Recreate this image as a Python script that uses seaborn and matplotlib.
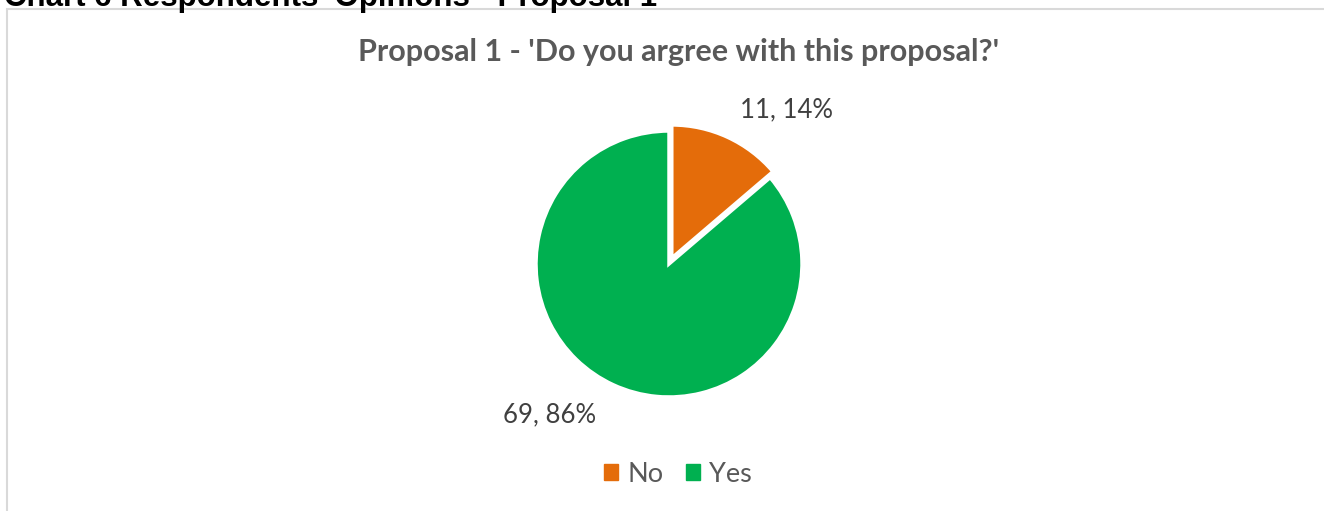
import matplotlib
matplotlib.use("Agg")
import matplotlib.pyplot as plt
import seaborn as sns
from matplotlib.patches import Rectangle, Patch

categories = ["No", "Yes"]
counts = [11, 69]
colors = ["#E46C0A", "#00B050"]
title = "Proposal 1 - 'Do you argree with this proposal?'"
outer_title = "Chart 6 Respondents' Opinions - Proposal 1"

sns.set_theme(style="white")
plt.rcParams['font.family'] = ['Lato', 'DejaVu Sans']

W, H = 1324, 511
fig = plt.figure(figsize=(W / 100, H / 100), dpi=100)
fig.patch.set_facecolor("white")

def fx(px):
    return px / W

def fy(py):
    return 1 - py / H

# chart frame
fig.patches.append(Rectangle((fx(7), fy(600)), fx(1400), fy(9) - fy(600),
                             transform=fig.transFigure, fill=False,
                             edgecolor="#D9D9D9", linewidth=1.5))

# clipped outer heading (cut off at the top, as in the source page)
fig.text(fx(4), fy(6), outer_title, family="Liberation Sans", fontweight="bold",
         fontsize=22.5, color="black", ha="left", va="baseline")

# chart title
fig.text(fx(679), fy(52), title, fontsize=22, fontweight="bold", color="#595959",
         ha="center", va="center")

# pie axes
cx, cy, r = 669, 264, 133
ax = fig.add_axes([fx(cx - r), fy(cy + r), fx(2 * r), fy(cy - r) - fy(cy + r)])
total = sum(counts)
wedges, _ = ax.pie(counts, colors=colors, startangle=90, counterclock=False,
                   explode=[0.05, 0.0], radius=1.0,
                   wedgeprops=dict(edgecolor="white", linewidth=2.5))
ax.set_xlim(-1, 1)
ax.set_ylim(-1, 1)
ax.set_aspect("equal")
ax.axis("off")

# data labels
label_pos = [(786, 110), (550, 415)]
for (lx, ly), c in zip(label_pos, counts):
    pct = round(100 * c / total)
    fig.text(fx(lx), fy(ly), f"{c}, {pct}%", fontsize=18.5, color="#404040",
             ha="center", va="center")

# legend
handles = [Patch(facecolor=col, edgecolor=col) for col in colors]
fig.legend(handles, categories, loc="center", bbox_to_anchor=(fx(678), fy(474)),
           ncol=2, frameon=False, fontsize=19.5, labelcolor="#595959",
           handlelength=0.5, handleheight=0.5, handletextpad=0.35, columnspacing=0.85)

fig.savefig("out.png", dpi=100, facecolor="white")
